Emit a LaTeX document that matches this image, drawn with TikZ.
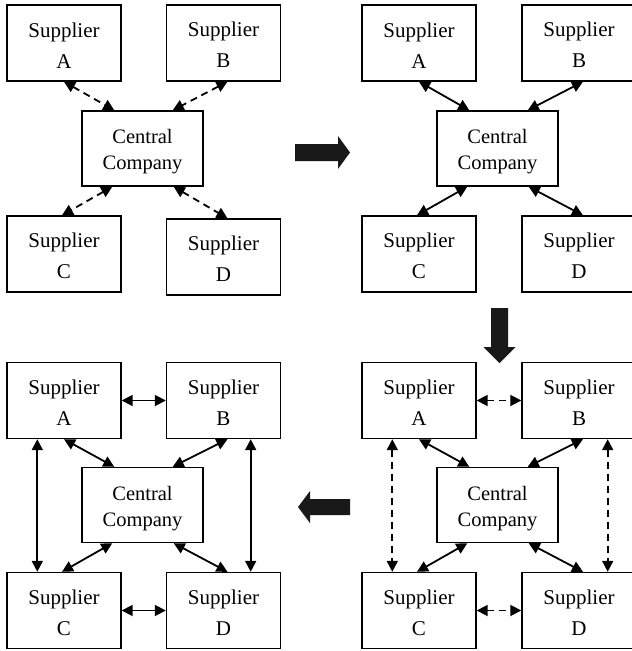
\documentclass[tikz,border=0pt]{standalone}
\usepackage{fontspec}
\setmainfont{Liberation Serif}
\usetikzlibrary{arrows.meta}

% box and connector looks
\tikzset{
  supplier/.style={draw, line width=1.4pt, minimum width=114pt, minimum height=76pt,
    inner sep=0pt, align=center, font=\fontsize{21}{31}\selectfont},
  central/.style={draw, line width=1.4pt, minimum width=121pt, minimum height=75pt,
    inner sep=0pt, align=center, font=\fontsize{20.5}{26}\selectfont},
  link/.style={line width=1.8pt,
    {Triangle[length=11pt,width=11pt]}-{Triangle[length=11pt,width=11pt]}},
  weak/.style={link, dash pattern=on 7pt off 5pt},
  flow/.style={fill=black!90},
}
\newcommand{\suppliername}[1]{\rule{0pt}{19pt}Supplier\\#1}
\newcommand{\centralname}{\rule{0pt}{21.4pt}Central\\Company}

\begin{document}
\begin{tikzpicture}[x=1pt,y=-1pt]
\useasboundingbox (0,0) rectangle (632,651);

% stage 1: loose links to the central company
\node[supplier] (p1a) at (64,43) {\suppliername{A}};
\node[supplier] (p1b) at (223.5,43) {\suppliername{B}};
\node[central] (p1cc) at (142.5,148.5) {\centralname};
\node[supplier] (p1c) at (64,254) {\suppliername{C}};
\node[supplier] (p1d) at (223.5,257) {\suppliername{D}};
\draw[weak] (p1a.south) -- ([xshift=33pt]p1cc.north west);
\draw[weak] ([xshift=4pt]p1b.south) -- ([xshift=-31pt]p1cc.north east);
\draw[weak] ([xshift=31pt]p1cc.south west) -- ([xshift=-2pt]p1c.north);
\draw[weak] ([xshift=-30pt]p1cc.south east) -- ([xshift=4pt]p1d.north);

% stage 2: firm links to the central company
\begin{scope}[shift={(355,0)}]
\node[supplier] (p2a) at (64,43) {\suppliername{A}};
\node[supplier] (p2b) at (224,43) {\suppliername{B}};
\node[central] (p2cc) at (142.5,148.5) {\centralname};
\node[supplier] (p2c) at (64,254) {\suppliername{C}};
\node[supplier] (p2d) at (224,254) {\suppliername{D}};
\draw[link] (p2a.south) -- ([xshift=33pt]p2cc.north west);
\draw[link] ([xshift=4pt]p2b.south) -- ([xshift=-31pt]p2cc.north east);
\draw[link] ([xshift=31pt]p2cc.south west) -- ([xshift=-2pt]p2c.north);
\draw[link] ([xshift=-30pt]p2cc.south east) -- ([xshift=4pt]p2d.north);
\end{scope}

% stage 3: loose links between the suppliers
\begin{scope}[shift={(355,357)}]
\node[supplier] (p4a) at (64,43.5) {\suppliername{A}};
\node[supplier] (p4b) at (224,43.5) {\suppliername{B}};
\node[central] (p4cc) at (142.5,148) {\centralname};
\node[supplier] (p4c) at (64,253.5) {\suppliername{C}};
\node[supplier] (p4d) at (224,253.5) {\suppliername{D}};
\draw[link] (p4a.south) -- ([xshift=33pt]p4cc.north west);
\draw[link] ([xshift=4pt]p4b.south) -- ([xshift=-31pt]p4cc.north east);
\draw[link] ([xshift=31pt]p4cc.south west) -- ([xshift=-2pt]p4c.north);
\draw[link] ([xshift=-30pt]p4cc.south east) -- ([xshift=4pt]p4d.north);
\draw[weak] (p4a.east) -- (p4b.west);
\draw[weak] (p4c.east) -- (p4d.west);
\draw[weak] ([xshift=31pt]p4a.south west) -- ([xshift=31pt]p4c.north west);
\draw[weak] ([xshift=-29pt]p4b.south east) -- ([xshift=-29pt]p4d.north east);
\end{scope}

% stage 4: firm links everywhere
\begin{scope}[shift={(0,357)}]
\node[supplier] (p3a) at (64,43.5) {\suppliername{A}};
\node[supplier] (p3b) at (223.5,43.5) {\suppliername{B}};
\node[central] (p3cc) at (142.5,148) {\centralname};
\node[supplier] (p3c) at (64,253.5) {\suppliername{C}};
\node[supplier] (p3d) at (223.5,253.5) {\suppliername{D}};
\draw[link] (p3a.south) -- ([xshift=33pt]p3cc.north west);
\draw[link] ([xshift=4pt]p3b.south) -- ([xshift=-31pt]p3cc.north east);
\draw[link] ([xshift=31pt]p3cc.south west) -- ([xshift=-2pt]p3c.north);
\draw[link] ([xshift=-30pt]p3cc.south east) -- ([xshift=4pt]p3d.north);
\draw[link] (p3a.east) -- (p3b.west);
\draw[link] (p3c.east) -- (p3d.west);
\draw[link] ([xshift=31pt]p3a.south west) -- ([xshift=31pt]p3c.north west);
\draw[link] ([xshift=-30.5pt]p3b.south east) -- ([xshift=-30.5pt]p3d.north east);
\end{scope}

% block arrows between the stages
\fill[flow] (295,144) -- (338,144) -- (338,136) -- (350,152.5) -- (338,169)
  -- (338,161) -- (295,161) -- cycle;
\fill[flow] (491,308) -- (508,308) -- (508,347) -- (515.5,347) -- (499.5,363)
  -- (483.5,347) -- (491,347) -- cycle;
\fill[flow] (350,499) -- (350,515) -- (310,515) -- (310,523) -- (298,507)
  -- (310,491) -- (310,499) -- cycle;
\end{tikzpicture}
\end{document}
